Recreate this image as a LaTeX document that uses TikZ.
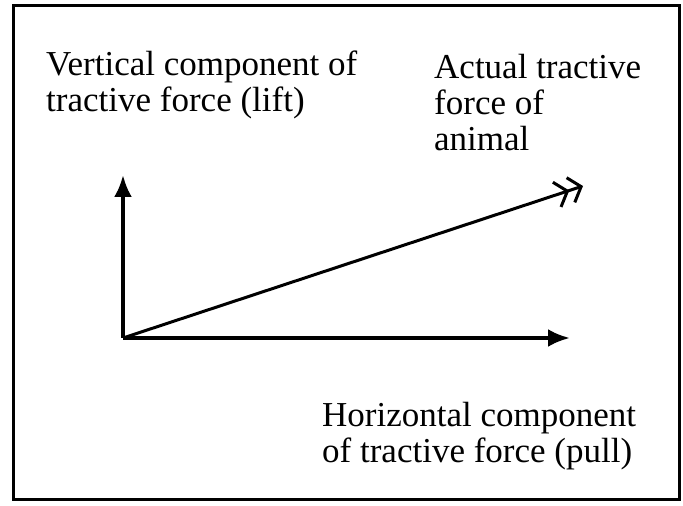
\documentclass[tikz,border=0pt]{standalone}
\usepackage{fontspec}
\setmainfont{Liberation Serif}
\usetikzlibrary{arrows.meta,positioning}

\begin{document}
\begin{tikzpicture}[
  x=1pt,y=1pt,
  lbl/.style={align=left,anchor=north west,inner sep=0pt,font=\fontsize{35}{36}\selectfont},
  comp/.style={line width=4pt,-{Latex[length=22pt,width=18pt]}},
  resultant/.style={line width=3pt,-{Straight Barb[length=11pt,width=26pt,line width=3pt] Straight Barb[length=11pt,width=26pt,line width=3pt]}}
]
\useasboundingbox (0,0) rectangle (683,506);
\node[draw,line width=2.5pt,minimum width=666pt,minimum height=494pt,inner sep=0pt,anchor=south west] (frame) at (12,5) {};
% vectors
\coordinate (origin) at (123,168);
\coordinate (lifttip) at (123,331);
\coordinate (pulltip) at (570,168);
\coordinate (forcetip) at (583,320);
\draw[comp] (origin) -- (lifttip);
\draw[comp] (origin) -- (pulltip);
\draw[resultant] (origin) -- (forcetip);
% labels
\node[lbl] (lift) at (46,455) {Vertical component of\\tractive force (lift)};
\node[lbl] (actual) at (434,452) {Actual tractive\\force of\\animal};
\node[lbl] (pull) at (322,104) {Horizontal component\\of tractive force (pull)};
\end{tikzpicture}
\end{document}
